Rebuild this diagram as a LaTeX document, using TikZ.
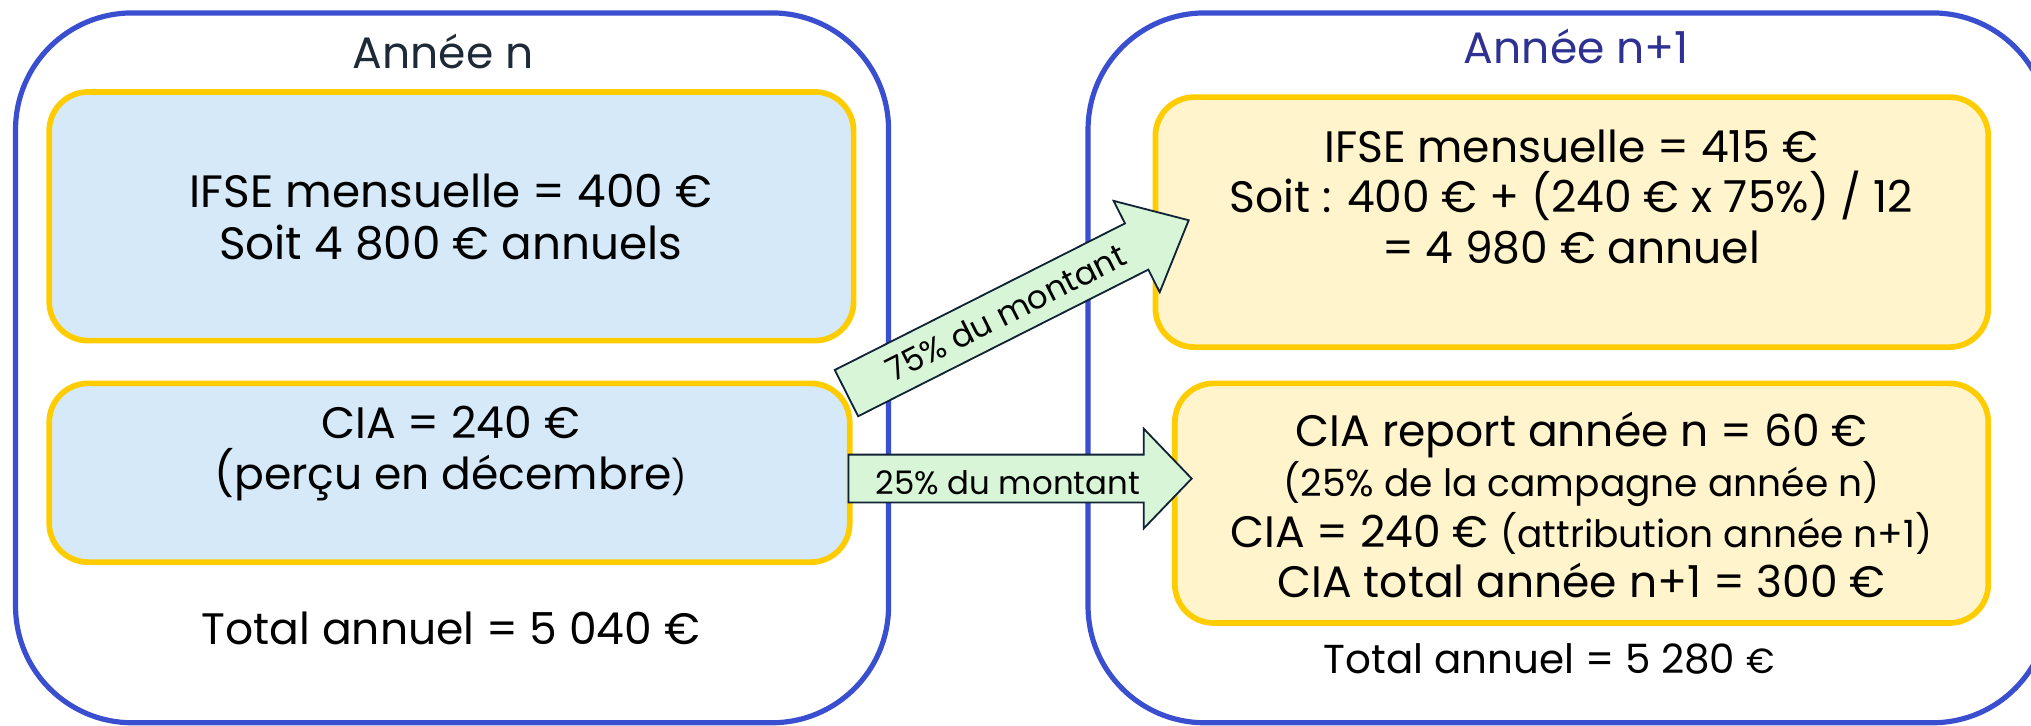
\documentclass[tikz,border=0pt]{standalone}
\usepackage{fontspec}
\setmainfont{Poppins}
\usetikzlibrary{fit}
\definecolor{cblue}{HTML}{3A4FD0}
\definecolor{cyel}{HTML}{FFCC00}
\definecolor{fblue}{HTML}{D6E9F8}
\definecolor{fyel}{HTML}{FFF4CC}
\definecolor{fgreen}{HTML}{D8F5D8}
\definecolor{cnavy}{HTML}{0F2236}
\definecolor{ctitle}{HTML}{1E2A38}
\definecolor{ctitletwo}{HTML}{2E3192}
\newcommand{\smallf}{\fontsize{14.5}{19.5}\selectfont}
\begin{document}
\begin{tikzpicture}[x=0.5pt,y=0.5pt,
 container/.style={draw=cblue, line width=2pt, rounded corners=45pt},
 box/.style={draw=cyel, line width=2.2pt, rounded corners=15pt, inner sep=0pt},
 txt/.style={align=center, inner sep=0pt, font=\fontsize{17}{19.5}\selectfont},
 garrow/.style={draw=cnavy, fill=fgreen, line width=0.7pt, line join=miter},
 alabel/.style={font=\fontsize{12.5}{15}\selectfont, inner sep=0pt}]
\useasboundingbox (0,0) rectangle (1568,560);
\clip (0,0) rectangle (1568,560);
% containers
\draw[container] (12,2) rectangle (686,550);
\draw[container] (840,2) rectangle (1582,550);
\node[txt, text=ctitle] (titleL) at (342,520) {Année n};
\node[txt, text=ctitletwo] (titleR) at (1217,524) {Année n+1};
% left boxes
\node[box, fill=fblue, fit={(38,297)(659,489)}] (ifseL) {};
\node[txt, font=\fontsize{17.5}{20}\selectfont] (ifseLt) at (348,392.5) {IFSE mensuelle = 400 €\\Soit 4 800 € annuels};
\node[box, fill=fblue, fit={(38,126)(656,264)}] (ciaL) {};
\node[txt] (ciaLt) at (348,210) {CIA = 240 €\\(perçu en décembre{\fontsize{13}{19.5}\selectfont )}};
\node[txt] (totL) at (348,75) {Total annuel = 5 040 €};
% right boxes
\node[box, fill=fyel, fit={(892,292)(1535,485)}] (ifseR) {};
\node[txt] (ifseRt) at (1213,408) {IFSE mensuelle = 415 €\\Soit : 400 € + (240 € x 75\%) / 12\\= 4 980 € annuel};
\node[box, fill=fyel, fit={(907,79)(1535,264)}] (ciaR) {};
\node[txt] (ciaRt) at (1221,170) {CIA report année n = 60 €\\{\smallf (25\% de la campagne année n)}\\CIA = 240 € {\smallf (attribution année n+1)}\\CIA total année n+1 = 300 €};
\node[txt, font=\fontsize{15.6}{19}\selectfont] (totR) at (1196,51) {Total annuel = 5 280 {\fontsize{13.5}{19}\selectfont €}};
% arrows
\draw[garrow] (655,172) -- (883,172) -- (883,152) -- (920,190.5) -- (883,229) -- (883,209) -- (655,209) -- cycle;
\node[alabel] (l25) at (778,187) {25\% du montant};
\begin{scope}[shift={(653.5,256.5)}, rotate=26.8]
\draw[garrow] (0,-20) -- (251,-20) -- (251,-39.5) -- (296,0) -- (251,39.5) -- (251,20) -- (0,20) -- cycle;
\node[alabel, rotate=26.8] (l75) at (138,0) {75\% du montant};
\end{scope}
\end{tikzpicture}
\end{document}
